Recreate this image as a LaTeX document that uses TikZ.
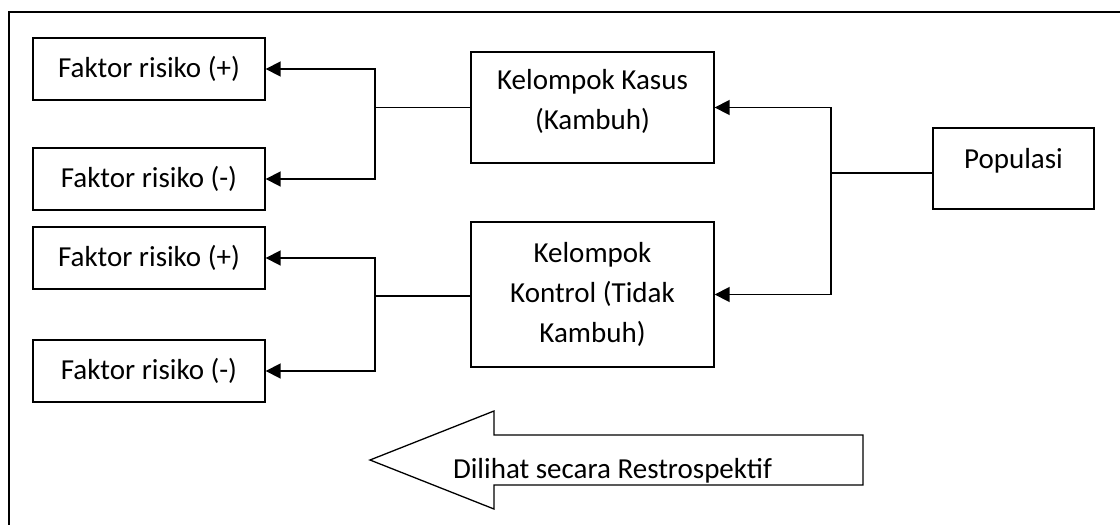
\documentclass[tikz,border=0pt]{standalone}
\usepackage{fontspec}
\setmainfont{Carlito}
\usetikzlibrary{arrows.meta, positioning, calc}

\begin{document}
\begin{tikzpicture}[
  x=1pt, y=-1pt,
  font=\fontsize{29}{40}\selectfont,
  kotak/.style={draw, line width=1.4pt, align=center, inner sep=0pt},
  faktor/.style={kotak, minimum width=232pt, minimum height=62pt},
  arr/.style={-{Triangle[length=15pt,width=15pt]}, line width=1.8pt},
  garis/.style={line width=1.6pt},
]
\useasboundingbox (0,0) rectangle (1120,525);
\clip (0,0) rectangle (1120,525);
% outer frame
\draw[line width=1.5pt] (9,12) rectangle (1140,545);
% risk factor boxes
\node[faktor] (fa1) at (149,69) {Faktor risiko (+)};
\node[faktor] (fa2) at (149,179) {Faktor risiko (-)};
\node[faktor] (fa3) at (149,258) {Faktor risiko (+)};
\node[faktor] (fa4) at (149,371) {Faktor risiko (-)};
% groups
\node[kotak, minimum width=243pt, minimum height=111pt, text depth=17pt] (kasus) at (592.5,107.5)
  {Kelompok Kasus\\(Kambuh)};
\node[kotak, minimum width=243pt, minimum height=145pt] (kontrol) at (592.5,294.5)
  {Kelompok\\Kontrol (Tidak\\Kambuh)};
% population
\node[kotak, minimum width=161pt, minimum height=81pt, text height=21pt, text depth=21pt] (pop)
  at (1013.5,168.5) {Populasi};
% junctions
\coordinate (j1) at (375,107.5);
\coordinate (j2) at (375,296);
\coordinate (j3) at (831,173);
\draw[garis] (kasus.west) -- (j1);
\draw[arr] (j1) |- (fa1.east);
\draw[arr] (j1) |- (fa2.east);
\draw[garis] (kontrol.west |- j2) -- (j2);
\draw[arr] (j2) |- (fa3.east);
\draw[arr] (j2) |- (fa4.east);
\draw[garis] (pop.west |- j3) -- (j3);
\draw[arr] (j3) |- (kasus.east);
\draw[arr] (j3) |- (kontrol.east);
% retrospective arrow
\draw[line width=1.3pt] (370,460) -- (494,411) -- (494,435) -- (863,435)
  -- (863,485) -- (494,485) -- (494,509) -- cycle;
\node[anchor=base, inner sep=0pt] (retro) at (612.5,478) {Dilihat secara Restrospektif};
\end{tikzpicture}
\end{document}
